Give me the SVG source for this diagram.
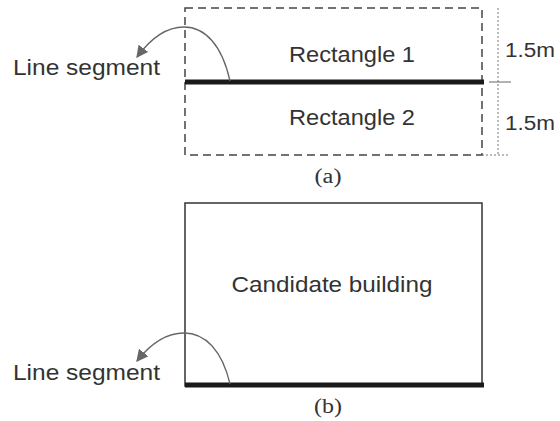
<svg xmlns="http://www.w3.org/2000/svg" width="560" height="421" viewBox="0 0 560 421">
<defs>
<style>
.lbl{font-family:"Liberation Sans",Arial,sans-serif;fill:#333;}
.cap{font-family:"Liberation Serif","Times New Roman",serif;fill:#333;font-size:20px;text-anchor:middle;}
.dash{fill:none;stroke:#444;stroke-width:1.5;stroke-dasharray:8,5;}
.dot{fill:none;stroke:#777;stroke-width:1;stroke-dasharray:2,2;}
.seg{stroke:#1a1a1a;stroke-width:5;}
.arc{fill:none;stroke:#666;stroke-width:1.3;marker-end:url(#ah);}
.box{fill:none;stroke:#333;stroke-width:1.5;}
</style>
<marker id="ah" viewBox="0 0 10 10" refX="9" refY="5" markerWidth="12" markerHeight="12" markerUnits="userSpaceOnUse" orient="auto">
<path d="M0,0 L10,5 L0,10 Z" fill="#666"/>
</marker>
</defs>
<rect width="560" height="421" fill="#fff"/>

<g id="panel-a">
<rect id="rects-a" class="dash" x="185" y="8" width="297" height="147"/>
<line class="seg" x1="185" y1="82" x2="484" y2="82"/>
<line class="dot" x1="498" y1="8" x2="498" y2="156"/>
<line class="dot" x1="482" y1="155" x2="510" y2="155"/>
<line x1="489" y1="82" x2="511" y2="82" stroke="#666" stroke-width="1"/>
<text class="lbl" x="352" y="62" font-size="22" text-anchor="middle" textLength="126" lengthAdjust="spacingAndGlyphs">Rectangle 1</text>
<text class="lbl" x="352" y="125" font-size="22" text-anchor="middle" textLength="126" lengthAdjust="spacingAndGlyphs">Rectangle 2</text>
<text class="lbl" x="505" y="57" font-size="20" textLength="50" lengthAdjust="spacingAndGlyphs">1.5m</text>
<text class="lbl" x="505" y="130" font-size="20" textLength="50" lengthAdjust="spacingAndGlyphs">1.5m</text>
<text class="lbl" x="13" y="75" font-size="22" textLength="147" lengthAdjust="spacingAndGlyphs">Line segment</text>
<text class="cap" x="328" y="183" textLength="27" lengthAdjust="spacingAndGlyphs">(a)</text>
</g>

<g id="panel-b">
<rect id="building" class="box" x="185" y="203" width="297" height="183"/>
<line class="seg" x1="185" y1="385" x2="484" y2="385"/>
<text class="lbl" x="332" y="292" font-size="22" text-anchor="middle" textLength="201" lengthAdjust="spacingAndGlyphs">Candidate building</text>
<text class="lbl" x="13" y="380" font-size="22" textLength="147" lengthAdjust="spacingAndGlyphs">Line segment</text>
<text class="cap" x="328" y="413" textLength="28" lengthAdjust="spacingAndGlyphs">(b)</text>
</g>

<g id="connectors">
<path class="arc" d="M230,81 C222,45 205,27 184,27 C163,27 148,42 137,57"/>
<path class="arc" d="M230,384 C222,350 205,333 184,333 C163,333 148,347 137,361"/>
</g>
</svg>
